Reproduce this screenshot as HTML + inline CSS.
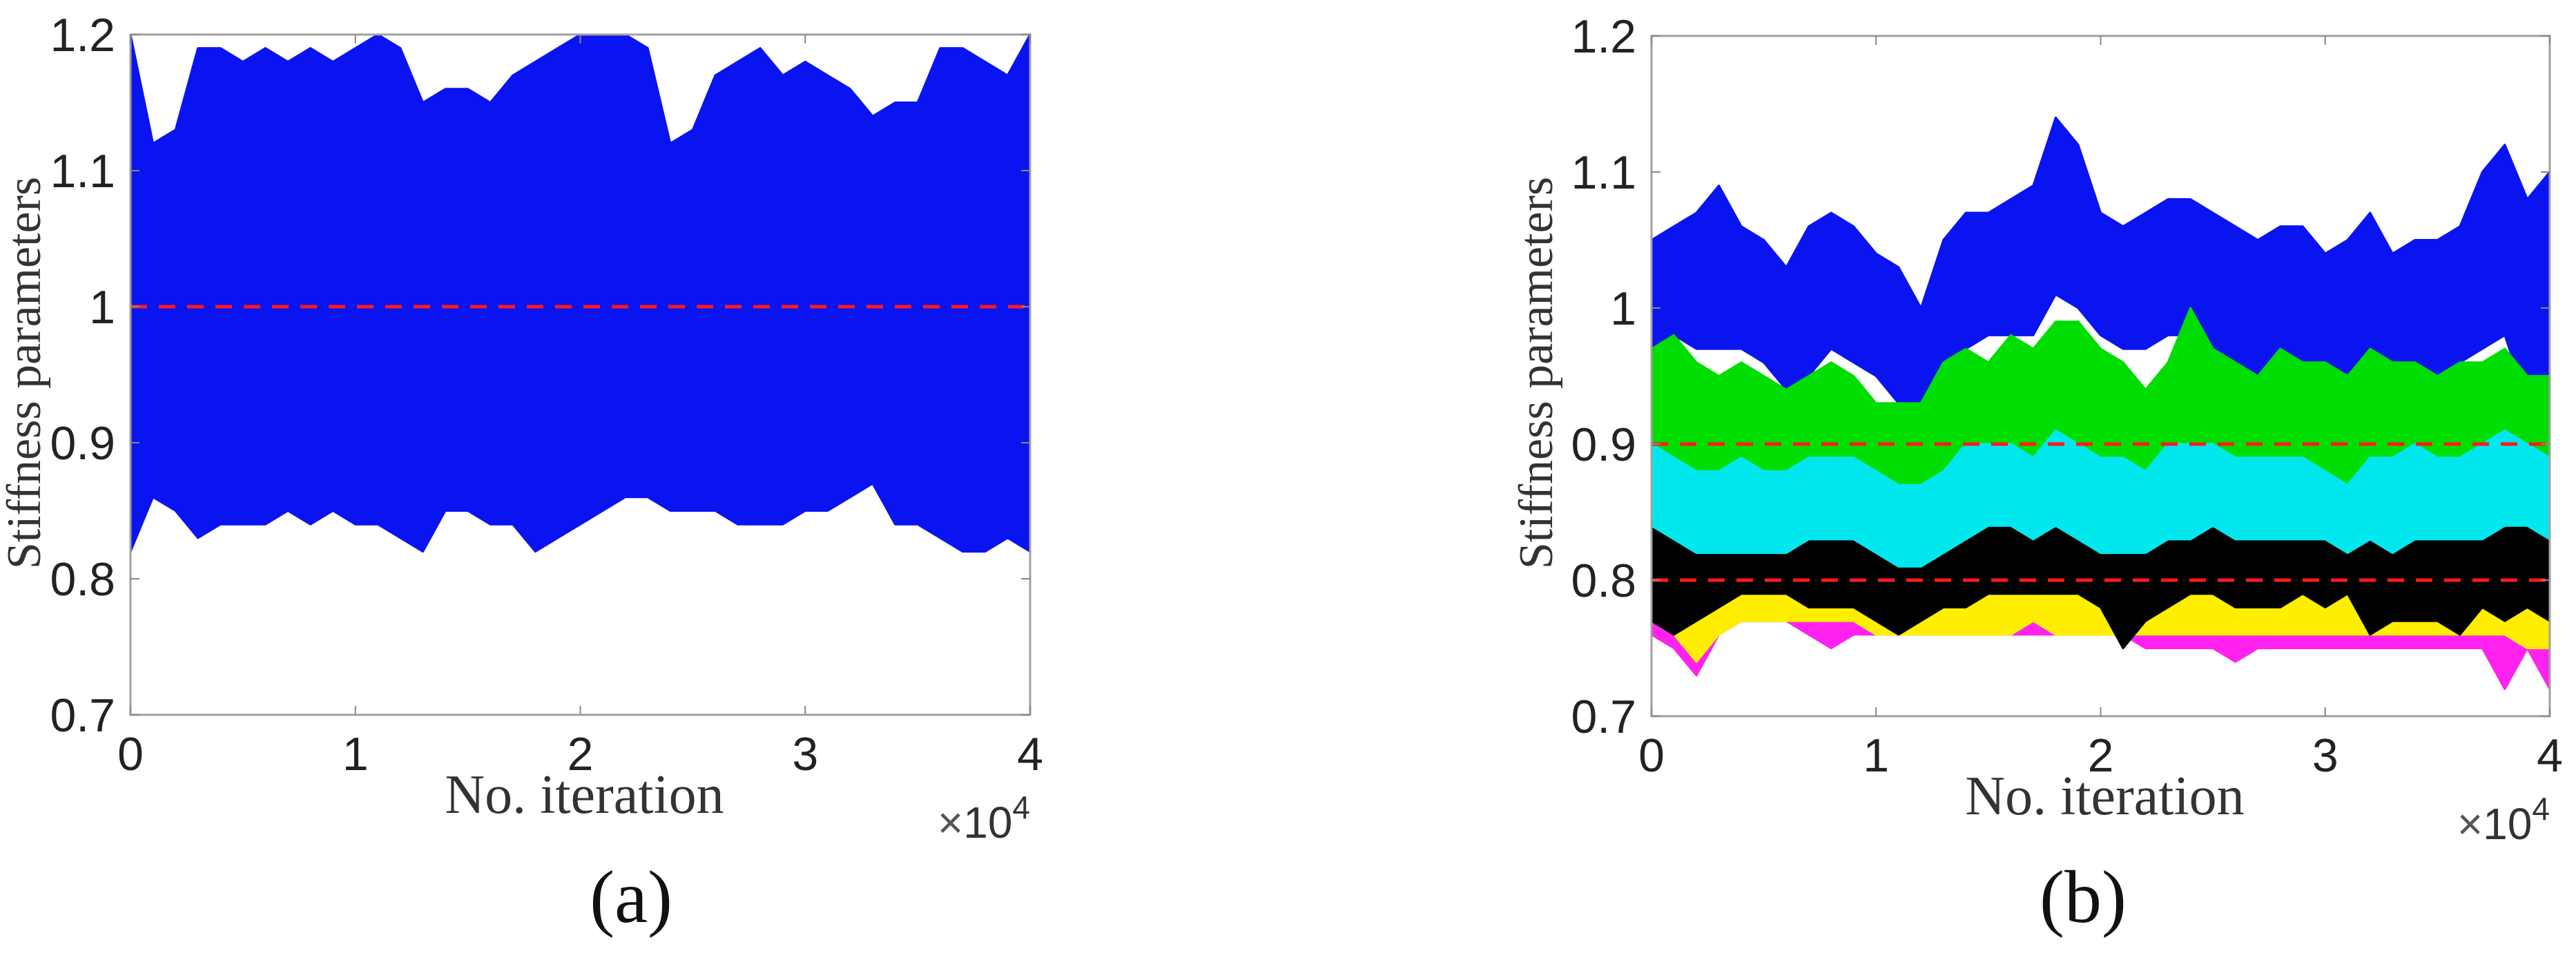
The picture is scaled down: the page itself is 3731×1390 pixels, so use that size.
<!DOCTYPE html>
<html><head><meta charset="utf-8">
<style>
html,body{margin:0;padding:0;background:#fff;}
svg{display:block;}
</style></head>
<body>
<svg id="fig" width="3731" height="1390" viewBox="0 0 3731 1390" xmlns="http://www.w3.org/2000/svg">
<rect width="3731" height="1390" fill="#fff"/>
<g id="pa"></g>
<g id="pb"></g>
</svg>
<script>
const xTicks=[0,1,2,3,4];
const xTickLabels=["0","1","2","3","4"];
const yTicks=[0.7,0.8,0.9,1.0,1.1,1.2];
const yTickLabels=["0.7","0.8","0.9","1","1.1","1.2"];
const iterK=[0,1,2,3,4,5,6,7,8,9,10,11,12,13,14,15,16,17,18,19,20,21,22,23,24,25,26,27,28,29,30,31,32,33,34,35,36,37,38,39,40];
// panel a envelope
const aUpper=[1.2,1.12,1.13,1.19,1.19,1.18,1.19,1.18,1.19,1.18,1.19,1.2,1.19,1.15,1.16,1.16,1.15,1.17,1.18,1.19,1.2,1.2,1.2,1.19,1.12,1.13,1.17,1.18,1.19,1.17,1.18,1.17,1.16,1.14,1.15,1.15,1.19,1.19,1.18,1.17,1.2];
const aLower=[0.82,0.86,0.85,0.83,0.84,0.84,0.84,0.85,0.84,0.85,0.84,0.84,0.83,0.82,0.85,0.85,0.84,0.84,0.82,0.83,0.84,0.85,0.86,0.86,0.85,0.85,0.85,0.84,0.84,0.84,0.85,0.85,0.86,0.87,0.84,0.84,0.83,0.82,0.82,0.83,0.82];
const aTarget=[1.0];
// panel b envelopes
const blueU=[1.05,1.06,1.07,1.09,1.06,1.05,1.03,1.06,1.07,1.06,1.04,1.03,1.00,1.05,1.07,1.07,1.08,1.09,1.14,1.12,1.07,1.06,1.07,1.08,1.08,1.07,1.06,1.05,1.06,1.06,1.04,1.05,1.07,1.04,1.05,1.05,1.06,1.10,1.12,1.08,1.10];
const blueL=[0.95,0.98,0.97,0.97,0.97,0.96,0.94,0.95,0.97,0.96,0.95,0.93,0.92,0.96,0.97,0.98,0.98,0.98,1.01,1.00,0.98,0.97,0.97,0.98,0.98,0.97,0.96,0.95,0.96,0.96,0.94,0.95,0.96,0.95,0.95,0.95,0.96,0.97,0.98,0.93,0.90];
const greenU=[0.97,0.98,0.96,0.95,0.96,0.95,0.94,0.95,0.96,0.95,0.93,0.93,0.93,0.96,0.97,0.96,0.98,0.97,0.99,0.99,0.97,0.96,0.94,0.96,1.00,0.97,0.96,0.95,0.97,0.96,0.96,0.95,0.97,0.96,0.96,0.95,0.96,0.96,0.97,0.95,0.95];
const greenL=[0.88,0.89,0.88,0.87,0.87,0.86,0.87,0.88,0.88,0.87,0.86,0.86,0.85,0.87,0.88,0.88,0.89,0.89,0.89,0.89,0.87,0.86,0.87,0.88,0.89,0.88,0.87,0.87,0.88,0.88,0.87,0.87,0.88,0.87,0.87,0.87,0.88,0.88,0.88,0.87,0.87];
const magU=[0.80,0.80,0.80,0.80,0.80,0.80,0.80,0.80,0.80,0.80,0.80,0.80,0.80,0.80,0.80,0.81,0.82,0.81,0.81,0.80,0.80,0.80,0.80,0.80,0.80,0.80,0.80,0.80,0.80,0.80,0.80,0.80,0.80,0.80,0.80,0.80,0.80,0.80,0.80,0.80,0.80];
const magL=[0.76,0.75,0.73,0.76,0.77,0.77,0.77,0.76,0.75,0.76,0.76,0.76,0.76,0.76,0.76,0.76,0.76,0.76,0.76,0.76,0.76,0.76,0.75,0.75,0.75,0.75,0.74,0.75,0.75,0.75,0.75,0.75,0.75,0.75,0.75,0.75,0.75,0.75,0.72,0.75,0.72];
const yelU=[0.84,0.83,0.82,0.80,0.80,0.80,0.80,0.80,0.81,0.80,0.80,0.80,0.80,0.80,0.81,0.81,0.81,0.82,0.82,0.81,0.81,0.80,0.81,0.81,0.81,0.80,0.80,0.80,0.81,0.80,0.80,0.80,0.80,0.80,0.81,0.80,0.80,0.80,0.80,0.80,0.80];
const yelL=[0.77,0.76,0.74,0.76,0.77,0.77,0.77,0.77,0.77,0.77,0.76,0.76,0.76,0.76,0.76,0.76,0.76,0.77,0.76,0.76,0.76,0.76,0.76,0.76,0.76,0.76,0.76,0.76,0.76,0.76,0.76,0.76,0.76,0.76,0.76,0.76,0.76,0.76,0.76,0.75,0.75];
const blackU=[0.84,0.83,0.85,0.83,0.86,0.84,0.84,0.83,0.84,0.84,0.83,0.83,0.87,0.84,0.86,0.86,0.85,0.88,0.87,0.84,0.86,0.85,0.83,0.84,0.84,0.85,0.84,0.84,0.85,0.84,0.84,0.83,0.84,0.84,0.84,0.84,0.83,0.83,0.84,0.86,0.84];
const blackL=[0.77,0.76,0.77,0.78,0.79,0.79,0.79,0.78,0.78,0.78,0.77,0.76,0.77,0.78,0.78,0.79,0.79,0.79,0.79,0.79,0.78,0.75,0.77,0.78,0.79,0.79,0.78,0.78,0.78,0.79,0.78,0.79,0.76,0.77,0.77,0.77,0.76,0.78,0.77,0.78,0.77];
const cyanU=[0.90,0.89,0.88,0.88,0.89,0.88,0.88,0.89,0.89,0.89,0.88,0.87,0.87,0.88,0.90,0.90,0.90,0.89,0.91,0.90,0.89,0.89,0.88,0.90,0.90,0.90,0.89,0.89,0.89,0.89,0.88,0.87,0.89,0.89,0.90,0.89,0.89,0.90,0.91,0.90,0.89];
const cyanL=[0.84,0.83,0.82,0.82,0.82,0.82,0.82,0.83,0.83,0.83,0.82,0.81,0.81,0.82,0.83,0.84,0.84,0.83,0.84,0.83,0.82,0.82,0.82,0.83,0.83,0.84,0.83,0.83,0.83,0.83,0.83,0.82,0.83,0.82,0.83,0.83,0.83,0.83,0.84,0.84,0.83];
const bTargets=[0.9,0.8];

const NS="http://www.w3.org/2000/svg";
function mk(tag,attrs,parent){const e=document.createElementNS(NS,tag);for(const k in attrs)e.setAttribute(k,attrs[k]);parent.appendChild(e);return e;}

function drawPanel(g,P,bands,targets,ylabX,ylabY,capX,capText){
  const xs=v=>P.x0+(v/40)*(P.x1-P.x0);
  const ys=v=>P.y1-(v-0.7)/0.5*(P.y1-P.y0);
  bands.forEach(b=>{
    let pts=[];
    for(let i=0;i<iterK.length;i++)pts.push(xs(iterK[i]).toFixed(1)+","+ys(b.u[i]).toFixed(1));
    for(let i=iterK.length-1;i>=0;i--)pts.push(xs(iterK[i]).toFixed(1)+","+ys(b.l[i]).toFixed(1));
    const p=mk("polygon",{points:pts.join(" "),fill:b.c,stroke:b.c,"stroke-width":3,"stroke-linejoin":"round"},g);
    
    
  });
  targets.forEach(t=>{
    const l=mk("line",{x1:P.x0,x2:P.x1,y1:ys(t),y2:ys(t),stroke:"#ff1a1a","stroke-width":5,"stroke-dasharray":"24 17"},g);
    
    
  });
  const box=mk("rect",{x:P.x0,y:P.y0,width:P.x1-P.x0,height:P.y1-P.y0,fill:"none",stroke:"#a0a0a0","stroke-width":3},g);
  
  
  xTicks.forEach((t,i)=>{
    const x=xs(t*10);
    mk("line",{x1:x,x2:x,y1:P.y1,y2:P.y1-13,stroke:"#888","stroke-width":2},g);
    mk("line",{x1:x,x2:x,y1:P.y0,y2:P.y0+13,stroke:"#888","stroke-width":2},g);
    const tx=mk("text",{x:x,y:P.y1+80,"text-anchor":"middle","font-family":"Liberation Sans, sans-serif","font-size":68,fill:"#222"},g);
    tx.textContent=xTickLabels[i];
    
    
  });
  yTicks.forEach((t,i)=>{
    const y=ys(t);
    mk("line",{x1:P.x0,x2:P.x0+13,y1:y,y2:y,stroke:"#888","stroke-width":2},g);
    mk("line",{x1:P.x1,x2:P.x1-13,y1:y,y2:y,stroke:"#888","stroke-width":2},g);
    const tx=mk("text",{x:P.x0-22,y:y+24,"text-anchor":"end","font-family":"Liberation Sans, sans-serif","font-size":68,fill:"#222"},g);
    tx.textContent=yTickLabels[i];
    
    
  });
  const xt=mk("text",{x:(P.x0+P.x1)/2+6,y:P.y1+142,"text-anchor":"middle","font-family":"Liberation Serif, serif","font-size":80,fill:"#333"},g);
  xt.textContent="No. iteration";
  
  
  const ex=mk("text",{x:P.x1,y:P.y1+178,"text-anchor":"end","font-family":"Liberation Sans, sans-serif","font-size":64,fill:"#333"},g);
  ex.innerHTML='<tspan fill="#555">×</tspan>10<tspan dy="-28" font-size="46">4</tspan>';
  
  
  const yt=mk("text",{x:0,y:0,transform:`translate(${ylabX},${ylabY}) rotate(-90)`,"text-anchor":"middle","font-family":"Liberation Serif, serif","font-size":70,fill:"#333"},g);
  yt.textContent="Stiffness parameters";
  
  
  const cp=mk("text",{x:capX,y:1335,"text-anchor":"middle","font-family":"Liberation Serif, serif","font-size":108,fill:"#111"},g);
  cp.textContent=capText;
  
  
}

drawPanel(document.getElementById('pa'),{x0:189,x1:1492,y0:50,y1:1035},
  [{u:aUpper,l:aLower,c:"#0a14f0",n:"series-a-blue"}],aTarget,58,540,914,"(a)");
drawPanel(document.getElementById('pb'),{x0:2392,x1:3693,y0:52,y1:1037},
  [{u:blueU,l:blueL,c:"#0a14f0",n:"series-blue"},
   {u:greenU,l:greenL,c:"#00dd00",n:"series-green"},
   {u:magU,l:magL,c:"#ff22ee",n:"series-magenta"},
   {u:yelU,l:yelL,c:"#ffee00",n:"series-yellow"},
   {u:blackU,l:blackL,c:"#000000",n:"series-black"},
   {u:cyanU,l:cyanL,c:"#00e8ee",n:"series-cyan"}],bTargets,2248,540,3017,"(b)");
</script>
</body></html>
